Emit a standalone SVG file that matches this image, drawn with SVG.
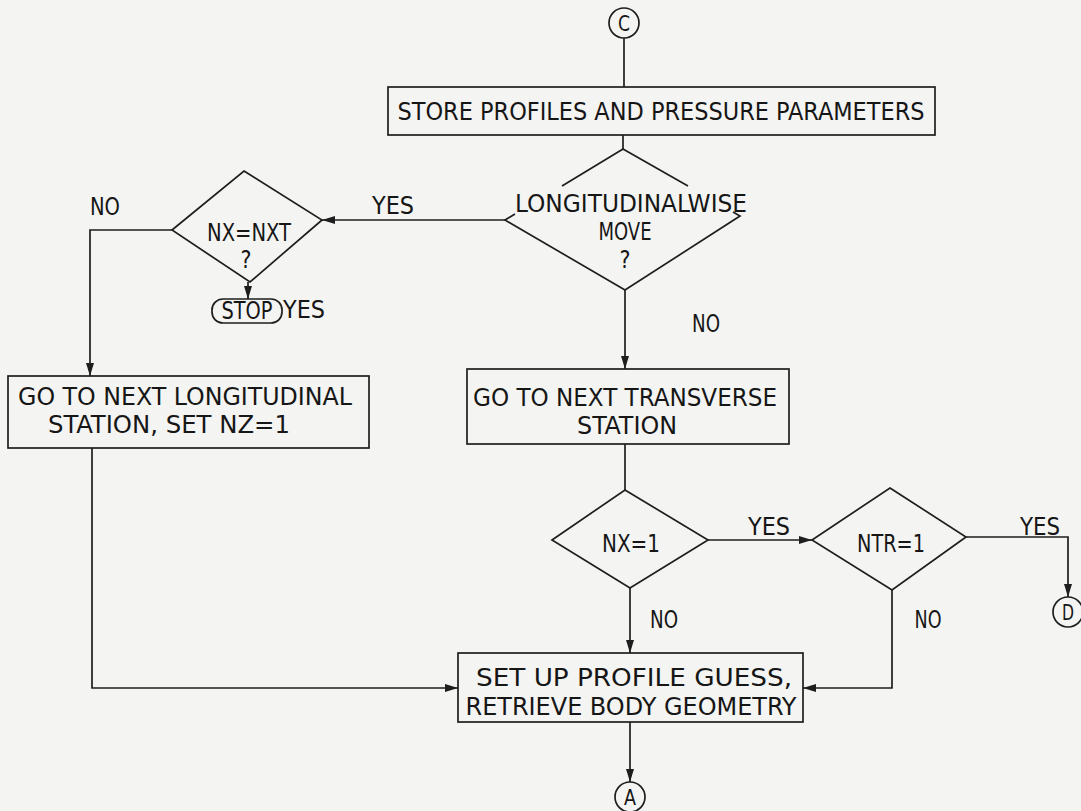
<svg xmlns="http://www.w3.org/2000/svg" width="1081" height="811" viewBox="0 0 1081 811">
  <style>
    .shape { fill: none; stroke: #1e1e1e; stroke-width: 1.7; }
    .line { fill: none; stroke: #1e1e1e; stroke-width: 1.7; }
    .arrow { marker-end: url(#head); }
    text { font-family: "DejaVu Sans", sans-serif; font-stretch: condensed; font-size: 24px; fill: #161616; text-anchor: middle; }
    .sym { font-size: 22px; }
  </style>
  <defs>
    <marker id="head" markerUnits="userSpaceOnUse" markerWidth="14" markerHeight="10" refX="13" refY="4" orient="auto">
      <path d="M0,0 L13,4 L0,8 z" fill="#1e1e1e"/>
    </marker>
  </defs>

  <rect x="0" y="0" width="1081" height="811" fill="#f4f4f2"/>

  <!-- connectors -->
  <g id="connectors">
    <path class="line" d="M624,38 L624,87"/>
    <path class="line" d="M623,135 L623,149"/>
    <path class="line arrow" d="M505,220 L322,220"/>
    <path class="line arrow" d="M248,282 L248,299"/>
    <path class="line arrow" d="M172,230 L90,230 L90,376"/>
    <path class="line arrow" d="M625,290 L625,369"/>
    <path class="line" d="M625,444 L625,490"/>
    <path class="line arrow" d="M708,540 L812,540"/>
    <path class="line arrow" d="M966,537 L1068,537 L1068,597"/>
    <path class="line arrow" d="M630,588 L630,653"/>
    <path class="line arrow" d="M892,590 L892,688 L803,688"/>
    <path class="line arrow" d="M92,448 L92,688 L458,688"/>
    <path class="line arrow" d="M630,722 L630,782"/>
    <text x="105" y="215" textLength="30" lengthAdjust="spacingAndGlyphs">NO</text>
    <text x="393" y="214" textLength="42" lengthAdjust="spacingAndGlyphs">YES</text>
    <text x="304" y="318" textLength="42" lengthAdjust="spacingAndGlyphs">YES</text>
    <text x="706" y="332" textLength="28" lengthAdjust="spacingAndGlyphs">NO</text>
    <text x="769" y="535" textLength="42" lengthAdjust="spacingAndGlyphs">YES</text>
    <text x="1040" y="535" textLength="40" lengthAdjust="spacingAndGlyphs">YES</text>
    <text x="664" y="628" textLength="28" lengthAdjust="spacingAndGlyphs">NO</text>
    <text x="928" y="628" textLength="27" lengthAdjust="spacingAndGlyphs">NO</text>
  </g>

  <!-- connector C -->
  <g id="conn-c">
    <circle class="shape" cx="624" cy="23" r="15"/>
    <text class="sym" x="624" y="31" textLength="12" lengthAdjust="spacingAndGlyphs">C</text>
  </g>

  <g id="store">
    <rect class="shape" x="388" y="87" width="547" height="48"/>
    <text x="661" y="120" textLength="527" lengthAdjust="spacingAndGlyphs">STORE PROFILES AND PRESSURE PARAMETERS</text>
  </g>

  <!-- upper edges stop short of the first text line -->
  <g id="dec-longwise">
    <path class="shape" d="M562,186 L623,149 L688,186"/>
    <path class="shape" d="M515,214 L505,220 L625,290 L740,216 L733,212"/>
    <text x="631" y="212" textLength="232" lengthAdjust="spacingAndGlyphs">LONGITUDINALWISE</text>
    <text x="625" y="240" textLength="53" lengthAdjust="spacingAndGlyphs">MOVE</text>
    <text x="625" y="268" textLength="11" lengthAdjust="spacingAndGlyphs">?</text>
  </g>

  <g id="dec-nxt">
    <polygon class="shape" points="244,171 322,220 250,282 172,230"/>
    <text x="249" y="241" textLength="84" lengthAdjust="spacingAndGlyphs">NX=NXT</text>
    <text x="246" y="268" textLength="11" lengthAdjust="spacingAndGlyphs">?</text>
  </g>

  <g id="stop">
    <rect class="shape" x="212" y="299" width="70" height="24" rx="11" ry="11"/>
    <text x="247" y="319" textLength="51" lengthAdjust="spacingAndGlyphs">STOP</text>
  </g>

  <g id="next-long">
    <rect class="shape" x="8" y="376" width="361" height="72"/>
    <text x="185" y="405" textLength="334" lengthAdjust="spacingAndGlyphs">GO TO NEXT LONGITUDINAL</text>
    <text x="169" y="433" textLength="242" lengthAdjust="spacingAndGlyphs">STATION, SET NZ=1</text>
  </g>

  <g id="next-trans">
    <rect class="shape" x="467" y="369" width="322" height="75"/>
    <text x="625" y="406" textLength="304" lengthAdjust="spacingAndGlyphs">GO TO NEXT TRANSVERSE</text>
    <text x="627" y="434" textLength="100" lengthAdjust="spacingAndGlyphs">STATION</text>
  </g>

  <g id="dec-nx1">
    <polygon class="shape" points="625,490 708,540 630,588 552,540"/>
    <text x="631" y="552" textLength="58" lengthAdjust="spacingAndGlyphs">NX=1</text>
  </g>

  <g id="dec-ntr">
    <polygon class="shape" points="890,488 966,537 892,590 812,540"/>
    <text x="891" y="552" textLength="68" lengthAdjust="spacingAndGlyphs">NTR=1</text>
  </g>

  <g id="conn-d">
    <circle class="shape" cx="1068" cy="612" r="15"/>
    <text class="sym" x="1068" y="620" textLength="12" lengthAdjust="spacingAndGlyphs">D</text>
  </g>

  <g id="setup">
    <rect class="shape" x="458" y="653" width="345" height="69"/>
    <text x="634" y="686" textLength="316" lengthAdjust="spacingAndGlyphs">SET UP PROFILE GUESS,</text>
    <text x="631" y="715" textLength="331" lengthAdjust="spacingAndGlyphs">RETRIEVE BODY GEOMETRY</text>
  </g>

  <g id="conn-a">
    <circle class="shape" cx="630" cy="797" r="15"/>
    <text class="sym" x="630" y="805" textLength="12" lengthAdjust="spacingAndGlyphs">A</text>
  </g>
</svg>
